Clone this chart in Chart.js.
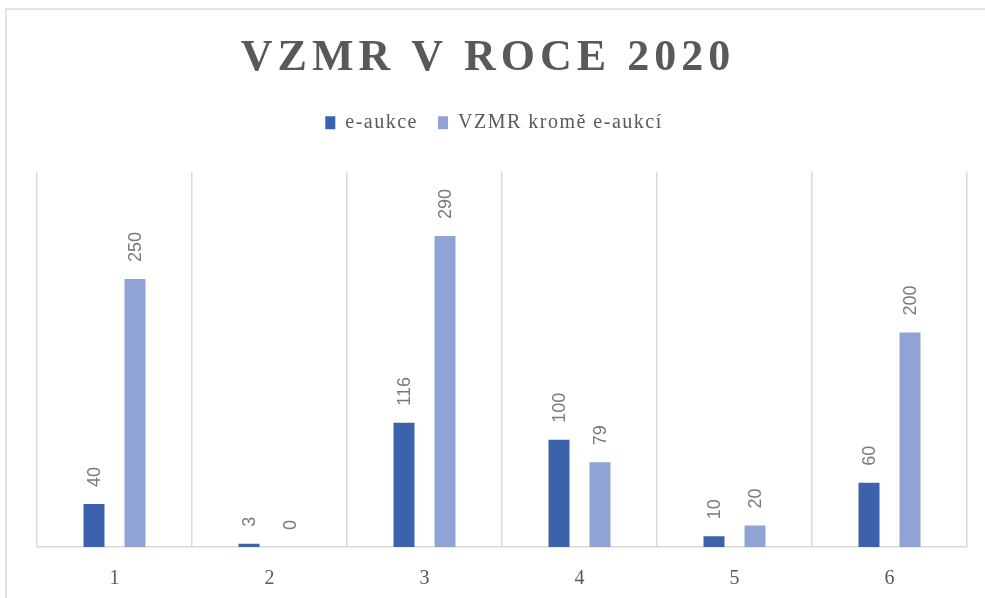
<!DOCTYPE html>
<html>
<head>
<meta charset="utf-8">
<script src="https://cdn.jsdelivr.net/npm/chart.js@4.4.1/dist/chart.umd.min.js"></script>
<style>
  html,body{margin:0;padding:0;background:#fff;overflow:hidden;}
  #wrap{position:relative;width:985px;height:598px;}
  #frame{position:absolute;left:5px;top:8px;width:1200px;height:800px;border-left:2px solid #e3e3e3;border-top:2px solid #e3e3e3;box-sizing:border-box;pointer-events:none;}
  canvas{position:absolute;left:0;top:0;}
</style>
</head>
<body>
<div id="wrap">
  <canvas id="c" width="985" height="598"></canvas>
  <div id="frame"></div>
</div>
<script>
const categories = ["1", "2", "3", "4", "5", "6"];
const eAukce = [40, 3, 116, 100, 10, 60];
const vzmrKromeEAukci = [250, 0, 290, 79, 20, 200];
const seriesNames = ["e-aukce", "VZMR kromě e-aukcí"];
const chartTitle = "VZMR V ROCE 2020";

function withSpacing(box, spacing, extraHeight, dx) {
  if (!box || box.__wrapped) return;
  box.__wrapped = true;
  const origUpdate = box.update;
  const origDraw = box.draw;
  box.update = function () {
    const ctx = this.ctx; const prev = ctx.letterSpacing;
    ctx.letterSpacing = spacing;
    const r = origUpdate.apply(this, arguments);
    ctx.letterSpacing = prev;
    if (extraHeight) this.height += extraHeight;
    return r;
  };
  box.draw = function () {
    const ctx = this.ctx;
    ctx.save();
    ctx.letterSpacing = spacing;
    ctx.translate(dx, 0);
    const r = origDraw.apply(this, arguments);
    ctx.restore();
    return r;
  };
}

const spacingPlugin = {
  id: 'spacing',
  beforeUpdate(chart) {
    withSpacing(chart.titleBlock, '5px', 0, -14);
    withSpacing(chart.legend, '1.5px', 29, -8);
  }
};

const labelPlugin = {
  id: 'barLabels',
  afterDatasetsDraw(chart) {
    const ctx = chart.ctx;
    ctx.save();
    ctx.fillStyle = '#7a7a7a';
    ctx.font = '18px "Liberation Sans", Arial, sans-serif';
    ctx.textAlign = 'left';
    ctx.textBaseline = 'middle';
    chart.data.datasets.forEach((ds, di) => {
      const meta = chart.getDatasetMeta(di);
      meta.data.forEach((bar, i) => {
        const v = ds.data[i];
        ctx.save();
        ctx.translate(bar.x + 1, bar.y - 17);
        ctx.rotate(-Math.PI / 2);
        ctx.fillText(String(v), 0, 0);
        ctx.restore();
      });
    });
    ctx.restore();
  }
};

new Chart(document.getElementById('c'), {
  type: 'bar',
  data: {
    labels: categories,
    datasets: [
      { label: seriesNames[0], data: eAukce, backgroundColor: '#3b62ab', barPercentage: 0.512, categoryPercentage: 0.529 },
      { label: seriesNames[1], data: vzmrKromeEAukci, backgroundColor: '#8fa3d4', barPercentage: 0.512, categoryPercentage: 0.529 }
    ]
  },
  options: {
    responsive: false,
    animation: false,
    devicePixelRatio: 1,
    layout: { padding: { left: 37, right: 18, top: 0, bottom: 0 } },
    plugins: {
      title: {
        display: true,
        text: chartTitle,
        color: '#595959',
        font: { family: '"Liberation Serif", "Times New Roman", serif', size: 44, weight: 'bold', lineHeight: 1.2 },
        padding: { top: 32, bottom: 8 }
      },
      legend: {
        display: true,
        position: 'top',
        labels: {
          color: '#595959',
          font: { family: '"Liberation Serif", "Times New Roman", serif', size: 20 },
          boxWidth: 10,
          boxHeight: 13,
          padding: 20
        }
      },
      tooltip: { enabled: false }
    },
    scales: {
      x: {
        grid: { offset: true, color: '#d9d9d9', lineWidth: 1.5, drawTicks: false },
        border: { color: '#d9d9d9', width: 1.5 },
        ticks: { color: '#595959', font: { family: '"Liberation Serif", "Times New Roman", serif', size: 20 }, padding: 20 },
        afterFit(scale) { scale.height = 51; }
      },
      y: {
        display: false,
        min: 0,
        max: 350
      }
    }
  },
  plugins: [spacingPlugin, labelPlugin]
});
</script>
</body>
</html>
